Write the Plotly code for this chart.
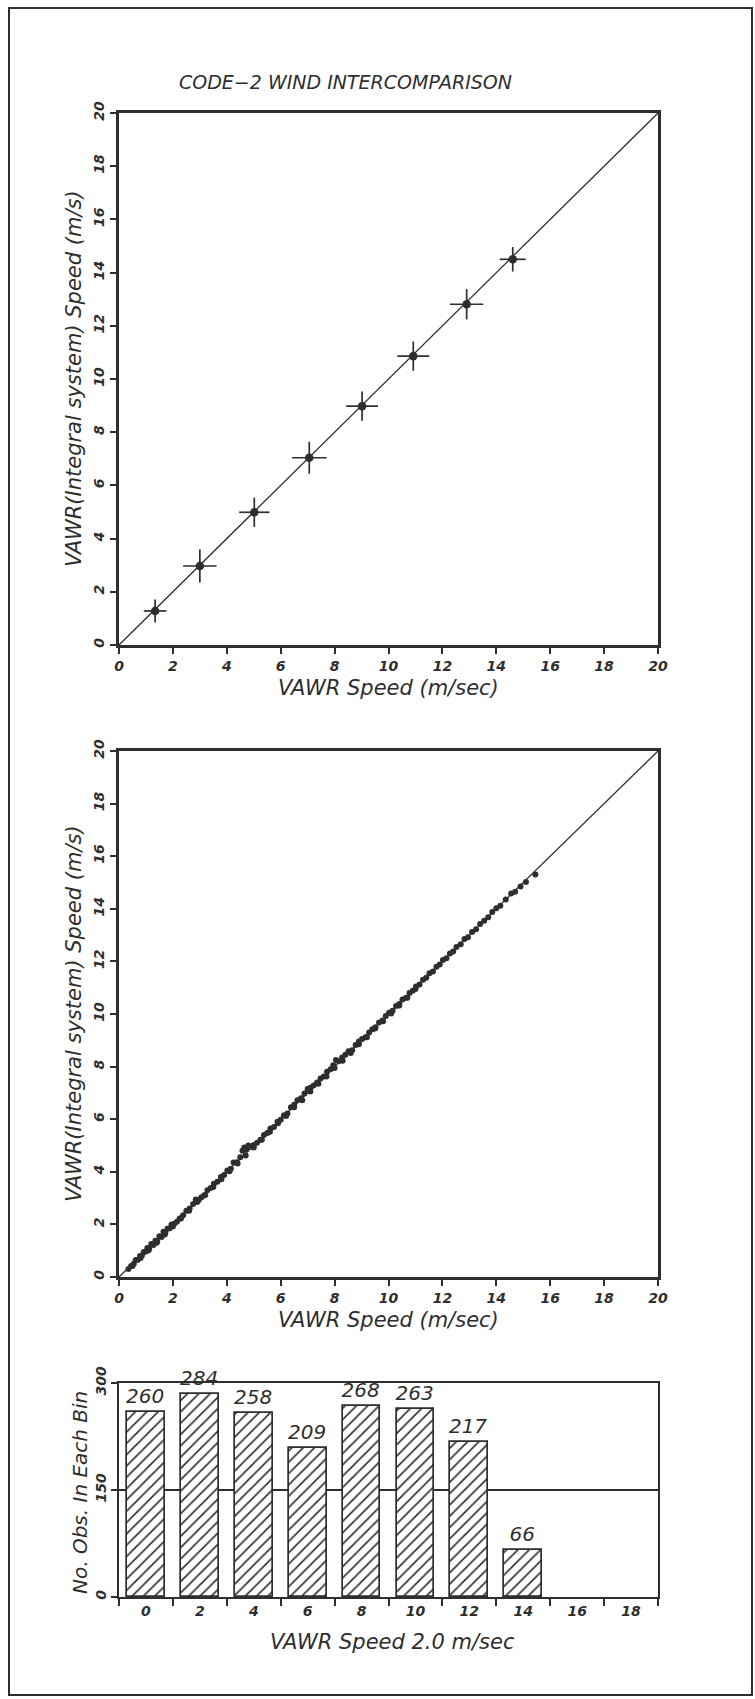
import plotly.graph_objects as go

W, H = 755, 1699
INK = "#2e2e2e"
FONT = "DejaVu Sans"

# ---------------- Panel 1: binned averages ----------------
bin_x = [1.34, 3.00, 5.02, 7.06, 9.02, 10.92, 12.90, 14.61]
bin_y = [1.28, 2.97, 4.99, 7.04, 8.98, 10.86, 12.81, 14.50]
err_x = [0.42, 0.62, 0.56, 0.64, 0.59, 0.59, 0.62, 0.48]
err_y = [0.43, 0.62, 0.55, 0.60, 0.55, 0.55, 0.57, 0.46]
one_to_one = [0, 20]

# ---------------- Panel 2: all observations ----------------
x2 = [0.35, 0.45, 0.55, 0.62, 0.70, 0.78, 0.85, 0.92, 1.00, 1.05, 1.12, 1.20, 1.28, 1.35, 1.42,
      1.50, 1.58, 1.65, 1.72, 1.80, 1.88, 1.95, 2.05, 2.15, 2.25, 2.38, 2.50, 2.62, 2.75, 2.85,
      2.95, 3.05, 3.15, 3.28, 3.40, 3.52, 3.65, 3.78, 3.90, 4.02, 4.15, 4.25, 4.38, 4.50, 4.58,
      4.65, 4.72, 4.80, 4.90, 5.00, 5.12, 5.25, 5.38, 5.50, 5.62, 5.75, 5.88, 6.00, 6.12, 6.25,
      6.38, 6.50, 6.62, 6.75, 6.88, 7.00, 7.10, 7.22, 7.35, 7.48, 7.60, 7.72, 7.85, 7.95, 8.05,
      8.15, 8.28, 8.40, 8.52, 8.65, 8.78, 8.90, 9.02, 9.15, 9.28, 9.40, 9.52, 9.65, 9.78, 9.90,
      10.02, 10.15, 10.28, 10.40, 10.52, 10.65, 10.78, 10.90, 11.02, 11.15, 11.28, 11.40, 11.52,
      11.65, 11.78, 11.90, 12.02, 12.15, 12.28, 12.40, 12.52, 12.68, 12.82, 12.95, 13.10, 13.25,
      13.40, 13.55, 13.70, 13.85, 14.00, 14.15, 14.35, 14.55, 14.70, 14.90, 15.10, 15.45,
      0.50, 0.80, 1.10, 1.40, 1.70, 2.00, 2.30, 2.60, 2.90, 3.20, 3.50, 3.80, 4.10, 4.40, 4.70,
      5.00, 5.30, 5.60, 5.90, 6.20, 6.50, 6.80, 7.10, 7.40, 7.70, 8.00, 8.30, 8.60, 8.90, 9.20,
      9.50, 9.80, 10.10, 10.40, 10.70, 11.00]
y2 = [0.30, 0.42, 0.50, 0.65, 0.66, 0.80, 0.82, 0.95, 0.97, 1.10, 1.08, 1.25, 1.22, 1.38, 1.36,
      1.55, 1.52, 1.72, 1.68, 1.83, 1.85, 2.00, 2.02, 2.10, 2.22, 2.35, 2.52, 2.60, 2.78, 2.95,
      2.92, 3.02, 3.10, 3.30, 3.38, 3.55, 3.62, 3.80, 3.88, 4.05, 4.12, 4.35, 4.36, 4.55, 4.80,
      4.92, 4.85, 5.00, 4.95, 5.02, 5.10, 5.22, 5.40, 5.48, 5.65, 5.70, 5.90, 5.98, 6.15, 6.22,
      6.45, 6.55, 6.72, 6.80, 6.98, 7.15, 7.20, 7.28, 7.40, 7.55, 7.62, 7.80, 7.90, 8.05, 8.25,
      8.20, 8.35, 8.45, 8.58, 8.62, 8.82, 8.95, 9.05, 9.12, 9.30, 9.42, 9.50, 9.68, 9.75, 9.92,
      10.05, 10.12, 10.30, 10.38, 10.55, 10.62, 10.80, 10.88, 11.05, 11.12, 11.30, 11.38, 11.55,
      11.62, 11.80, 11.88, 12.05, 12.12, 12.30, 12.38, 12.55, 12.65, 12.85, 12.92, 13.12, 13.22,
      13.42, 13.55, 13.68, 13.88, 14.02, 14.12, 14.35, 14.58, 14.65, 14.85, 15.02, 15.30,
      0.42, 0.72, 1.02, 1.30, 1.62, 1.92, 2.22, 2.52, 2.85, 3.12, 3.42, 3.72, 4.02, 4.32, 4.62,
      4.92, 5.22, 5.52, 5.85, 6.12, 6.45, 6.72, 7.05, 7.35, 7.62, 7.95, 8.22, 8.52, 8.85, 9.12,
      9.45, 9.72, 10.02, 10.32, 10.62, 10.95]

# ---------------- Panel 3: histogram of observations ----------------
bin_centers = [0, 2, 4, 6, 8, 10, 12, 14]
counts = [260, 284, 258, 209, 268, 263, 217, 66]
bin_label_vals = [0, 2, 4, 6, 8, 10, 12, 14, 16, 18]
bin_labels = ["0", "2", "4", "6", "8", "10", "12", "14", "16", "18"]
bin_edges = [-1, 1, 3, 5, 7, 9, 11, 13, 15, 17, 19]
count_ticks = [0, 150, 300]
speed_ticks = [0, 2, 4, 6, 8, 10, 12, 14, 16, 18, 20]


def px(x):
    return x / W


def py(y):
    return 1 - y / H


fig = go.Figure()

# Panel 1
fig.add_trace(go.Scatter(x=one_to_one, y=one_to_one, mode="lines",
                         line=dict(color=INK, width=1.3), xaxis="x", yaxis="y",
                         showlegend=False, hoverinfo="skip"))
fig.add_trace(go.Scatter(x=bin_x, y=bin_y, mode="markers",
                         marker=dict(color=INK, size=8.5),
                         error_x=dict(type="data", array=err_x, color=INK, thickness=1.7, width=0),
                         error_y=dict(type="data", array=err_y, color=INK, thickness=1.7, width=0),
                         xaxis="x", yaxis="y", showlegend=False))

# Panel 2
fig.add_trace(go.Scatter(x=one_to_one, y=one_to_one, mode="lines",
                         line=dict(color=INK, width=1.3), xaxis="x2", yaxis="y2",
                         showlegend=False, hoverinfo="skip"))
fig.add_trace(go.Scatter(x=x2, y=y2, mode="markers",
                         marker=dict(color=INK, size=6),
                         xaxis="x2", yaxis="y2", showlegend=False))

# Panel 3
fig.add_trace(go.Bar(x=bin_centers, y=counts, width=1.4,
                     marker=dict(color="white", line=dict(color=INK, width=1.7),
                                 pattern=dict(shape="/", fgcolor=INK, bgcolor="white",
                                              size=8, solidity=0.2)),
                     text=[str(c) for c in counts], textposition="outside",
                     textfont=dict(family=FONT, size=20, color=INK, style="italic"),
                     constraintext="none", cliponaxis=False,
                     xaxis="x3", yaxis="y3", showlegend=False))

tickfont = dict(family=FONT, size=14, color=INK, style="italic", weight="bold")

common_scatter_axis = dict(range=[0, 20], tickmode="array", tickvals=speed_ticks,
                           ticktext=[str(v) for v in speed_ticks],
                           ticks="outside", ticklen=6, tickwidth=2, tickcolor=INK,
                           showline=True, linewidth=3.2, linecolor=INK, mirror=True,
                           showgrid=False, zeroline=False, tickfont=tickfont,
                           automargin=False)

xdom = [px(119), px(658)]
fig.update_layout(
    template="none",
    width=W, height=H,
    margin=dict(l=0, r=0, t=0, b=0, pad=0, autoexpand=False),
    paper_bgcolor="white", plot_bgcolor="white",
    font=dict(family=FONT, color=INK),
    xaxis=dict(domain=xdom, anchor="y", **common_scatter_axis),
    yaxis=dict(domain=[py(645), py(113)], anchor="x", tickangle=-90, **common_scatter_axis),
    xaxis2=dict(domain=xdom, anchor="y2", **common_scatter_axis),
    yaxis2=dict(domain=[py(1277), py(751)], anchor="x2", tickangle=-90, **common_scatter_axis),
    xaxis3=dict(domain=xdom, anchor="y3", range=[-1, 19], tickmode="array",
                tickvals=bin_label_vals, ticktext=bin_labels, ticks="",
                minor=dict(tickmode="array", tickvals=bin_edges, ticks="outside",
                           ticklen=7, tickwidth=1.7, tickcolor=INK, showgrid=False),
                showline=True, linewidth=1.7, linecolor=INK, mirror=True,
                showgrid=False, zeroline=False, tickfont=tickfont, automargin=False),
    yaxis3=dict(domain=[py(1597), py(1383)], anchor="x3", range=[0, 300], tickmode="array",
                tickvals=count_ticks, ticktext=[str(v) for v in count_ticks], tickangle=-90,
                ticks="outside", ticklen=6, tickwidth=1.7, tickcolor=INK,
                showline=True, linewidth=1.7, linecolor=INK, mirror=True,
                showgrid=True, gridcolor=INK, gridwidth=1.5, zeroline=False,
                tickfont=tickfont, automargin=False),
    bargap=0,
)

xt_font = dict(family=FONT, size=21, color=INK, style="italic")
yt_font = dict(family=FONT, size=21, color=INK, style="italic")
annotations = [
    dict(text="CODE\u22122 WIND INTERCOMPARISON", x=px(345), y=py(82),
         font=dict(family=FONT, size=19, color=INK, style="italic")),
    dict(text="VAWR Speed (m/sec)", x=px(388), y=py(688), font=xt_font),
    dict(text="VAWR(Integral system) Speed (m/s)", x=px(74), y=py(379), textangle=-90, font=yt_font),
    dict(text="VAWR Speed (m/sec)", x=px(388), y=py(1320), font=xt_font),
    dict(text="VAWR(Integral system) Speed (m/s)", x=px(74), y=py(1014), textangle=-90, font=yt_font),
    dict(text="VAWR Speed 2.0 m/sec", x=px(392), y=py(1642), font=xt_font),
    dict(text="No. Obs. In Each Bin", x=px(80), y=py(1493), textangle=-90,
         font=dict(family=FONT, size=20, color=INK, style="italic")),
]
for a in annotations:
    a.update(xref="paper", yref="paper", showarrow=False, xanchor="center", yanchor="middle")
fig.update_layout(annotations=annotations)

fig.add_shape(type="rect", xref="paper", yref="paper", x0=px(9), x1=px(752), y0=py(1695), y1=py(8),
              line=dict(color=INK, width=2), fillcolor="rgba(0,0,0,0)", layer="above")

fig.write_html("out.html", config={"displayModeBar": False},
               post_script="document.body.style.margin='0';")
